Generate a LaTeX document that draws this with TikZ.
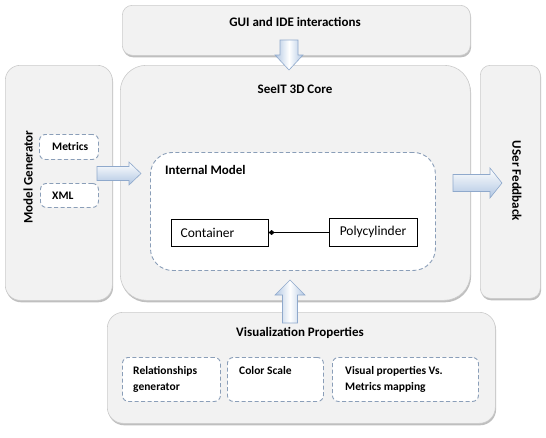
\documentclass[tikz,border=0pt]{standalone}
\usepackage{fontspec}
\setmainfont{Carlito}
\usetikzlibrary{shadows,arrows.meta}
\definecolor{boxfill}{HTML}{F2F2F2}
\definecolor{boxline}{HTML}{CBCBCB}
\definecolor{dashc}{HTML}{8A9EB8}
\definecolor{arrline}{HTML}{8FA9CC}
\definecolor{arrdark}{HTML}{B0C6E2}
\tikzset{
  panel/.style={draw=boxline, fill=boxfill, line width=0.6pt, anchor=north west, inner sep=0pt,
    drop shadow={shadow xshift=0.8pt, shadow yshift=-2pt, opacity=0.45, fill=black!55}},
  dbox/.style={draw=dashc, dash pattern=on 4pt off 2.5pt, fill=white, line width=0.9pt,
    rounded corners=6pt, anchor=north west, inner sep=0pt},
  plainbox/.style={draw=black, fill=white, line width=0.6pt, anchor=north west, inner sep=0pt},
  ttl/.style={font=\bfseries\fontsize{13}{15}\selectfont, inner sep=0pt},
  sml/.style={font=\bfseries\fontsize{11.5}{16}\selectfont, inner sep=0pt, anchor=west, align=left},
  reg/.style={font=\fontsize{13.5}{15}\selectfont, inner sep=0pt},
  blkh/.style={draw=arrline, line width=0.6pt, top color=white, bottom color=arrdark},
  blkv/.style={draw=arrline, line width=0.6pt, left color=arrdark, right color=arrdark, middle color=white},
}
\begin{document}
\begin{tikzpicture}[x=1pt,y=-1pt]
\useasboundingbox (0,0) rectangle (546,437);
\fill[white] (0,0) rectangle (546,437);

% panels
\node[panel, rounded corners=10pt, minimum width=348pt, minimum height=50pt] (gui) at (122,5) {};
\node[panel, rounded corners=26pt, minimum width=350pt, minimum height=235pt] (core) at (120,65) {};
\node[panel, rounded corners=15pt, minimum width=107pt, minimum height=235pt] (mgen) at (5,65) {};
\node[panel, rounded corners=10pt, minimum width=60pt, minimum height=233pt] (ufb) at (480,65) {};
\node[panel, rounded corners=16pt, minimum width=388pt, minimum height=111pt] (vis) at (107,312) {};

% titles
\node[ttl] (guit) at (295,22) {GUI and IDE interactions};
\node[ttl] (coret) at (295,89) {SeeIT 3D Core};
\node[ttl, rotate=90] (mgent) at (28,177) {Model Generator};
\node[ttl, rotate=-90] (ufbt) at (517,181) {USer Feddback};
\node[ttl] (vist) at (300,333) {Visualization Properties};

% model generator inputs
\node[dbox, minimum width=59pt, minimum height=25pt] (metrics) at (39,134) {};
\node[sml] at (52,146.5) {Metrics};
\node[dbox, minimum width=58pt, minimum height=24pt] (xml) at (40,183) {};
\node[sml] at (52,195.5) {XML};

% internal model
\node[dbox, rounded corners=22pt, minimum width=285pt, minimum height=118pt] (im) at (150,152) {};
\node[ttl, anchor=west] (imt) at (165,170) {Internal Model};
\node[plainbox, minimum width=97pt, minimum height=27pt] (cont) at (171,219) {};
\node[reg] at (207.5,233) {Container};
\node[plainbox, minimum width=88pt, minimum height=28pt] (poly) at (329,218) {};
\node[reg] at (373,232) {Polycylinder};
\draw[line width=0.6pt, {Diamond[length=6pt,width=5pt]}-] (cont.east |- 0,232.5) -- (poly.west |- 0,232.5);

% visualization properties
\node[dbox, minimum width=98pt, minimum height=44pt] (rel) at (122,357) {};
\node[sml] at (133,379) {Relationships\\generator};
\node[dbox, minimum width=96pt, minimum height=44pt] (cs) at (227,357) {};
\node[sml] at (239,370.5) {Color Scale};
\node[dbox, minimum width=146pt, minimum height=44pt] (vp) at (332,357) {};
\node[sml] at (345,379) {Visual properties Vs.\\Metrics mapping};

% block arrows
\path[blkh] (97,166.5) -- (129,166.5) -- (129,162) -- (141,173.5) -- (129,185) -- (129,180.5) -- (97,180.5) -- cycle;
\path[blkv] (280,40) -- (298,40) -- (298,55) -- (303,55) -- (289,70) -- (275,55) -- (280,55) -- cycle;
\path[blkv] (282.5,323) -- (297.5,323) -- (297.5,295) -- (305,295) -- (290,280) -- (275,295) -- (282.5,295) -- cycle;
\path[blkh] (453,174.5) -- (490,174.5) -- (490,168) -- (502,183) -- (490,198) -- (490,191.5) -- (453,191.5) -- cycle;
\end{tikzpicture}
\end{document}
